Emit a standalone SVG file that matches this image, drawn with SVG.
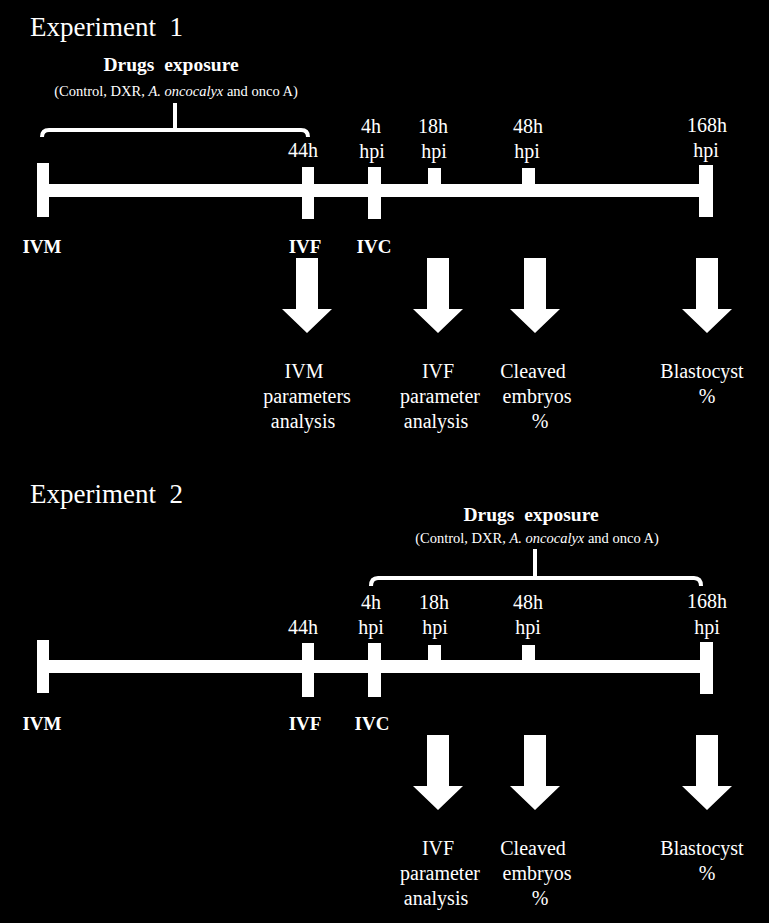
<svg xmlns="http://www.w3.org/2000/svg" width="769" height="923" viewBox="0 0 769 923" font-family="'Liberation Serif', 'DejaVu Serif', serif">
<style>
text{font-family:'Liberation Serif','DejaVu Serif',serif;fill:#fff}
.title{font-size:27px}
.head{font-size:19.5px;font-weight:bold;text-anchor:middle;word-spacing:5px}
.sub{font-size:14.5px;text-anchor:middle}
.lab{font-size:20px;text-anchor:middle}
.stage{font-size:19px;font-weight:bold;text-anchor:middle}
.bar{fill:#fff}
.brace{fill:none;stroke:#fff;stroke-width:4}
.arrow{fill:#fff}
</style>
<rect width="769" height="923" fill="#000"/>

<!-- Experiment 1 -->
<g id="exp1-title"><text class="title" x="30" y="36" xml:space="preserve">Experiment  1</text></g>
<g id="exp1-drugs">
<text class="head" x="171" y="71">Drugs exposure</text>
<text class="sub" x="176" y="96">(Control, DXR, <tspan font-style="italic">A. oncocalyx</tspan> and onco A)</text>
<path class="brace" d="M42,137 Q42,130 49,130 L301,130 Q308,130 308,137 M175,103 L175,130"/>
</g>
<g id="exp1-timeline">
<rect class="bar" x="48" y="184" width="652" height="13"/>
<rect class="bar" x="37" y="163" width="12" height="54"/>
<rect class="bar" x="302" y="167" width="12" height="52"/>
<rect class="bar" x="368" y="167" width="13" height="52"/>
<rect class="bar" x="428" y="168" width="13" height="17"/>
<rect class="bar" x="522" y="168" width="13" height="17"/>
<rect class="bar" x="699" y="165" width="14" height="52"/>
</g>
<g id="exp1-timelabels">
<text class="lab" x="303" y="157">44h</text>
<text class="lab" x="371" y="133">4h</text><text class="lab" x="372" y="158">hpi</text>
<text class="lab" x="433" y="133">18h</text><text class="lab" x="434" y="158">hpi</text>
<text class="lab" x="528" y="133">48h</text><text class="lab" x="527" y="158">hpi</text>
<text class="lab" x="707" y="132">168h</text><text class="lab" x="706" y="157">hpi</text>
</g>
<g id="exp1-stages">
<text class="stage" x="42" y="253">IVM</text>
<text class="stage" x="305" y="253">IVF</text>
<text class="stage" x="374" y="253">IVC</text>
</g>
<g id="exp1-arrows">
<polygon class="arrow" points="296,258 318,258 318,309 332,309 307,333 282,309 296,309"/>
<polygon class="arrow" points="427,258 449,258 449,309 463,309 438,333 413,309 427,309"/>
<polygon class="arrow" points="524,258 546,258 546,309 560,309 535,333 510,309 524,309"/>
<polygon class="arrow" points="696,258 718,258 718,309 732,309 707,333 682,309 696,309"/>
</g>
<g id="exp1-outcomes">
<text class="lab" x="304" y="378">IVM</text><text class="lab" x="307" y="403">parameters</text><text class="lab" x="303" y="428">analysis</text>
<text class="lab" x="438" y="378">IVF</text><text class="lab" x="440" y="403">parameter</text><text class="lab" x="436" y="428">analysis</text>
<text class="lab" x="533" y="378">Cleaved</text><text class="lab" x="537" y="403">embryos</text><text class="lab" x="540" y="428">%</text>
<text class="lab" x="702" y="378">Blastocyst</text><text class="lab" x="707" y="403">%</text>
</g>

<!-- Experiment 2 -->
<g id="exp2-title"><text class="title" x="30" y="503" xml:space="preserve">Experiment  2</text></g>
<g id="exp2-drugs">
<text class="head" x="531" y="521">Drugs exposure</text>
<text class="sub" x="537" y="543">(Control, DXR, <tspan font-style="italic">A. oncocalyx</tspan> and onco A)</text>
<path class="brace" d="M371,586 Q371,578 378,578 L694,578 Q701,578 701,586 M535,549 L535,578"/>
</g>
<g id="exp2-timeline">
<rect class="bar" x="48" y="660" width="652" height="13"/>
<rect class="bar" x="37" y="640" width="12" height="53"/>
<rect class="bar" x="302" y="643" width="12" height="54"/>
<rect class="bar" x="368" y="643" width="13" height="54"/>
<rect class="bar" x="428" y="645" width="13" height="16"/>
<rect class="bar" x="522" y="645" width="13" height="16"/>
<rect class="bar" x="700" y="642" width="13" height="52"/>
</g>
<g id="exp2-timelabels">
<text class="lab" x="303" y="634">44h</text>
<text class="lab" x="371" y="609">4h</text><text class="lab" x="371" y="634">hpi</text>
<text class="lab" x="434" y="609">18h</text><text class="lab" x="435" y="634">hpi</text>
<text class="lab" x="528" y="609">48h</text><text class="lab" x="528" y="634">hpi</text>
<text class="lab" x="707" y="608">168h</text><text class="lab" x="707" y="634">hpi</text>
</g>
<g id="exp2-stages">
<text class="stage" x="42" y="730">IVM</text>
<text class="stage" x="305" y="730">IVF</text>
<text class="stage" x="372" y="730">IVC</text>
</g>
<g id="exp2-arrows">
<polygon class="arrow" points="427,735 449,735 449,786 463,786 438,810 413,786 427,786"/>
<polygon class="arrow" points="524,735 546,735 546,786 560,786 535,810 510,786 524,786"/>
<polygon class="arrow" points="696,735 718,735 718,786 732,786 707,810 682,786 696,786"/>
</g>
<g id="exp2-outcomes">
<text class="lab" x="438" y="855">IVF</text><text class="lab" x="440" y="880">parameter</text><text class="lab" x="436" y="905">analysis</text>
<text class="lab" x="533" y="855">Cleaved</text><text class="lab" x="537" y="880">embryos</text><text class="lab" x="540" y="905">%</text>
<text class="lab" x="702" y="855">Blastocyst</text><text class="lab" x="707" y="880">%</text>
</g>
</svg>
